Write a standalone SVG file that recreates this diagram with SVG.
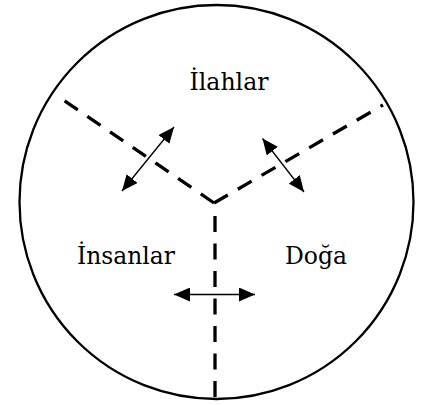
<svg xmlns="http://www.w3.org/2000/svg" width="431" height="405" viewBox="0 0 431 405">
<style>
.bound{fill:none;stroke:#000;stroke-width:2.3}
.div{fill:none;stroke:#000;stroke-width:3.3;stroke-dasharray:16 11.5}
.arr{fill:none;stroke:#000;stroke-width:1.3;marker-start:url(#ah);marker-end:url(#ah)}
.lbl{font-family:"DejaVu Serif","Liberation Serif",serif;font-size:23.5px;fill:#000;text-anchor:middle}
</style>
<defs>
<marker id="ah" viewBox="0 0 16 14" refX="16" refY="7" markerWidth="16" markerHeight="14" markerUnits="userSpaceOnUse" orient="auto-start-reverse">
<path d="M0,0 L16,7 L0,14 Z" fill="#000"/>
</marker>
</defs>
<rect width="431" height="405" fill="#fff"/>
<g id="boundary"><circle class="bound" cx="216.5" cy="202" r="197"/></g>
<g id="connectors">
<path class="div" d="M214,203 L62,99"/>
<path class="div" d="M214,203 L383,105"/>
<path class="div" d="M215,216 L215,399"/>
<path class="arr" d="M122,191 L174,127"/>
<path class="arr" d="M262.5,138.5 L304,192"/>
<path class="arr" d="M174,294.5 L255,294.5"/>
</g>
<g id="ilahlar"><text class="lbl" x="229" y="90" textLength="79" lengthAdjust="spacingAndGlyphs">İlahlar</text></g>
<g id="insanlar"><text class="lbl" x="126" y="264" textLength="98" lengthAdjust="spacingAndGlyphs">İnsanlar</text></g>
<g id="doga"><text class="lbl" x="316" y="263.5" textLength="62" lengthAdjust="spacingAndGlyphs">Doğa</text></g>
</svg>
